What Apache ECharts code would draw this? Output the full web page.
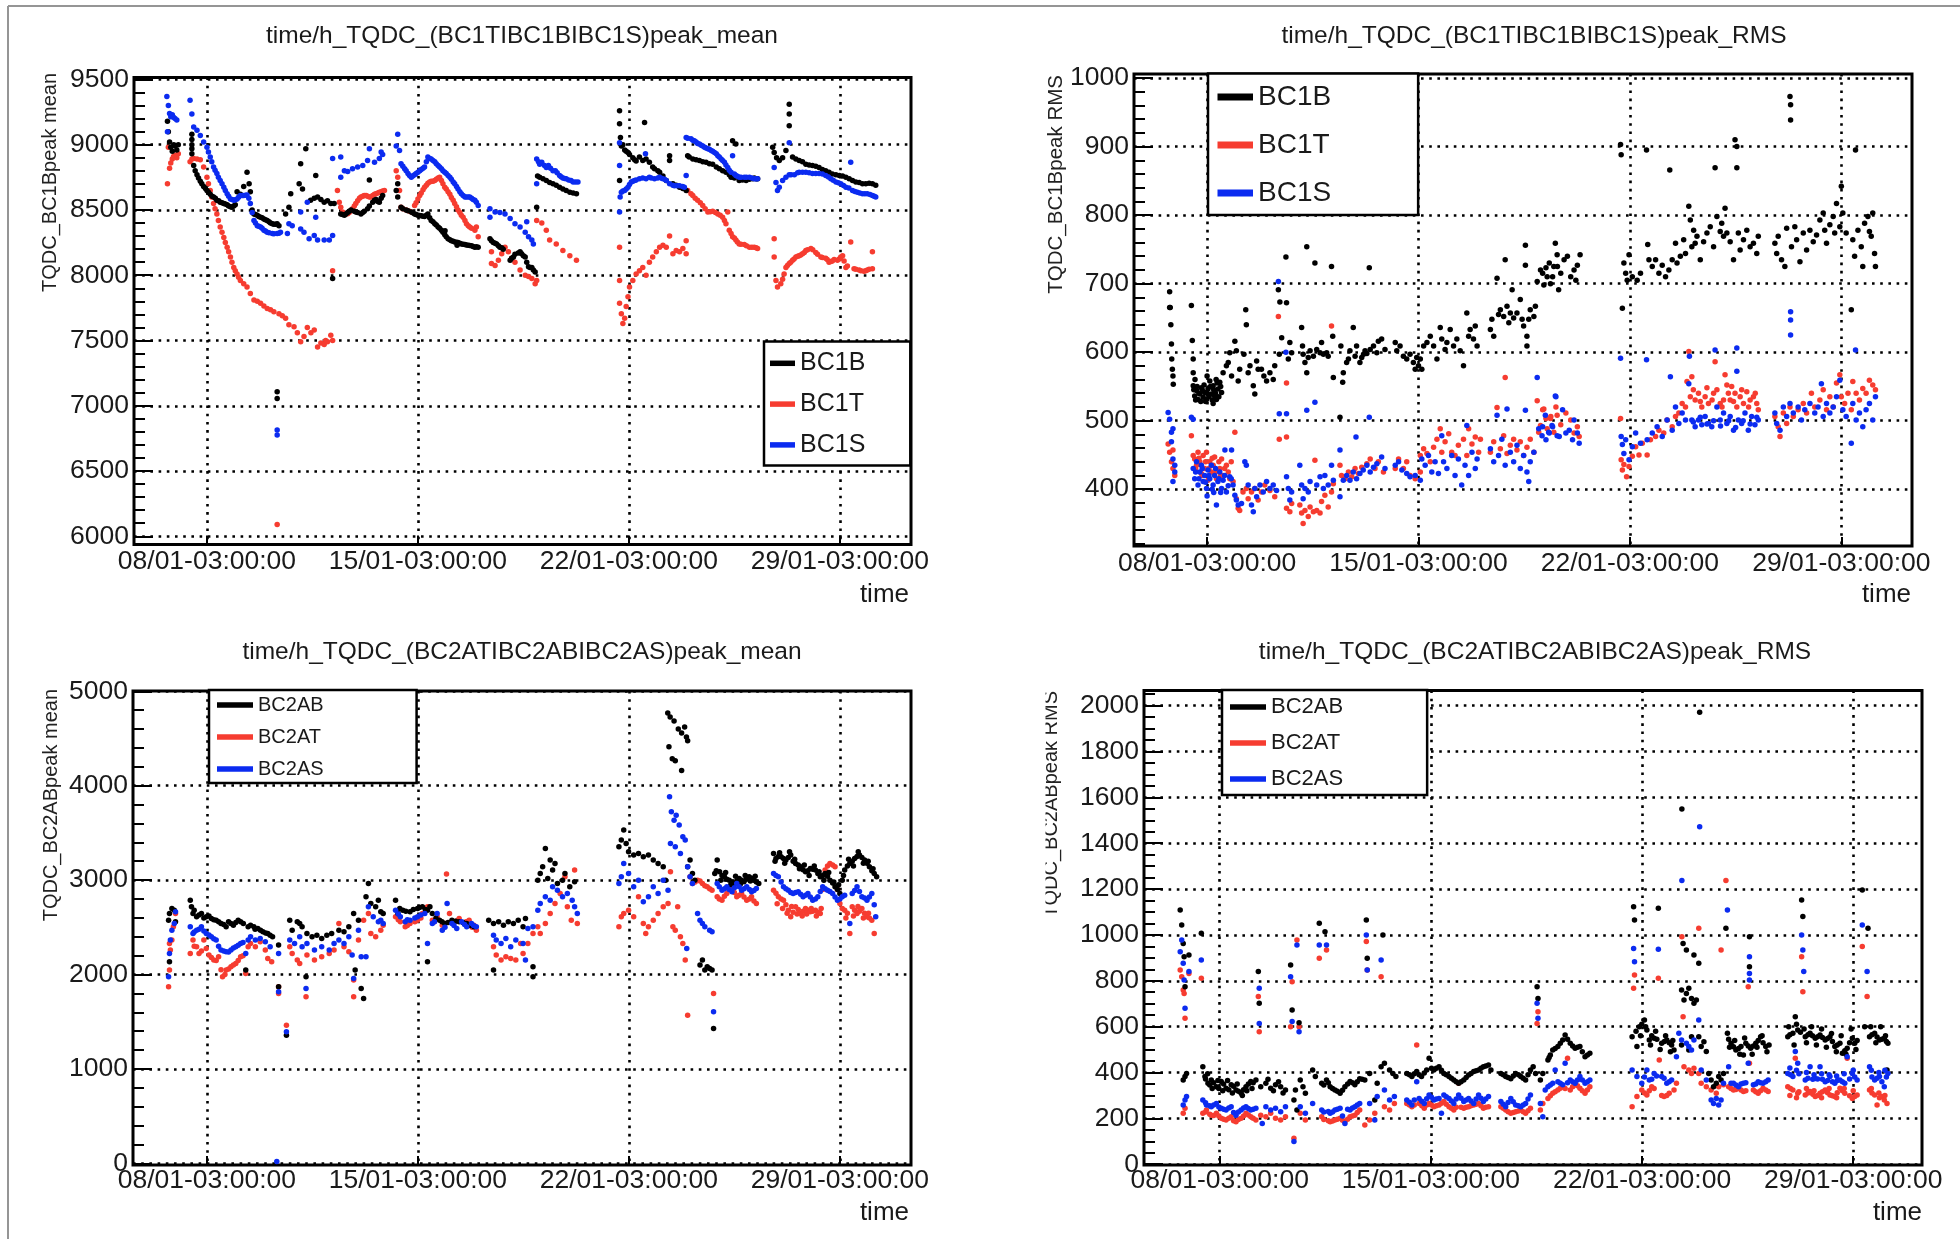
<!DOCTYPE html>
<html><head><meta charset="utf-8">
<script src="https://cdn.jsdelivr.net/npm/echarts@6.0.0/dist/echarts.min.js"></script>
<style>html,body{margin:0;padding:0;background:#fff}#c{width:1960px;height:1239px}</style>
</head><body><div id="c"></div>
<script>
// ---------- tick labels ----------
const weekTicks = [0, 7, 14, 21];   // days after 08/01-03:00:00
const weekLabels = ['08/01-03:00:00', '15/01-03:00:00', '22/01-03:00:00', '29/01-03:00:00'];
const p1YTicks = [6000, 6500, 7000, 7500, 8000, 8500, 9000, 9500];
const p2YTicks = [400, 500, 600, 700, 800, 900, 1000];
const p3YTicks = [0, 1000, 2000, 3000, 4000, 5000];
const p4YTicks = [0, 200, 400, 600, 800, 1000, 1200, 1400, 1600, 1800, 2000];

// ---------- data: [day offset from 08/01-03:00, value] ----------
// Panel 1: peak_mean BC1
const p1_BC1B = [[-1.31,9180],[-1.28,9100],[-1.24,9020],[-1.2,8980],[-1.15,8950],[-1.1,9000],[-1.05,8990],[-1.0,8960],[-0.95,9000],
[-0.5,9080],[-0.5,9040],[-0.5,9000],[-0.5,8970],[-0.5,8930],[-0.44,8840],[-0.39,8800],[-0.33,8770],[-0.28,8745],[-0.22,8720],[-0.17,8700],[-0.11,8680],[-0.05,8665],[0,8650],[0.05,8635],[0.11,8620],[0.17,8605],[0.22,8600],[0.28,8590],[0.33,8575],[0.39,8570],[0.44,8560],[0.5,8555],[0.56,8550],[0.61,8545],[0.67,8540],[0.72,8530],[0.78,8525],[0.83,8520],[0.89,8530],[0.94,8540],[1.0,8640],[1.11,8620],[1.22,8680],[1.33,8790],[1.4,8700],[1.44,8640],[1.5,8500],[1.56,8470],[1.61,8465],[1.67,8460],[1.72,8450],[1.78,8445],[1.83,8440],[1.89,8430],[1.94,8425],[2.0,8420],[2.06,8410],[2.11,8400],[2.17,8395],[2.22,8390],[2.28,8390],[2.33,8395],[2.39,8380],[2.61,8470],[2.72,8520],[2.78,8625],[3.06,8700],[3.17,8660],[3.11,8855],[3.28,8970],[3.44,8575],[3.56,8590],[3.61,8765],[3.67,8600],[3.78,8580],[3.89,8560],[4.0,8570],[4.11,8550],[4.22,8550],
[2.33,7107],[2.33,7055],[4.17,7975],
[4.44,8470],[4.5,8465],[4.56,8460],[4.61,8470],[4.67,8480],[4.72,8490],[4.78,8500],[4.89,8490],[4.94,8485],[5.0,8480],[5.11,8470],[5.17,8480],[5.22,8490],[5.33,8510],[5.39,8530],[5.39,8730],[5.5,8560],[5.56,8575],[5.61,8580],[5.67,8565],[5.72,8560],[5.78,8590],[5.83,8610],
[6.28,8650],[6.33,8600],[6.33,8700],[6.44,8520],[6.5,8510],[6.61,8500],[6.67,8495],[6.78,8485],[6.83,8478],[6.89,8470],[6.94,8465],[7.0,8460],[7.06,8458],[7.11,8455],[7.17,8452],[7.22,8450],[7.28,8460],[7.33,8470],[7.39,8440],[7.44,8420],[7.5,8410],[7.56,8395],[7.61,8385],[7.67,8370],[7.72,8360],[7.78,8345],[7.83,8330],[7.89,8310],[7.9,8340],[7.94,8295],[8.0,8280],[8.06,8272],[8.11,8265],[8.17,8260],[8.22,8255],[8.28,8252],[8.3,8230],[8.33,8250],[8.39,8245],[8.44,8240],[8.5,8238],[8.56,8235],[8.61,8232],[8.67,8230],[8.72,8228],[8.78,8225],[8.83,8220],[8.89,8215],[8.94,8218],[9.0,8215],
[9.39,8280],[9.44,8265],[9.5,8250],[9.56,8245],[9.61,8240],[9.67,8225],[9.72,8215],[9.78,8210],[9.83,8200],[10.06,8115],[10.11,8130],[10.17,8140],[10.22,8160],[10.33,8170],[10.39,8180],[10.44,8165],[10.5,8150],[10.56,8140],[10.61,8100],[10.67,8065],[10.72,8060],[10.78,8060],[10.83,8040],[10.89,8025],[10.94,8520],
[10.97,8760],[11.04,8750],[11.15,8740],[11.26,8725],[11.37,8710],[11.48,8700],[11.59,8690],[11.7,8675],[11.81,8660],[11.92,8650],[12.04,8635],[12.15,8630],[12.26,8625],
[13.69,9260],[13.69,9160],[13.69,8725],[13.72,9055],[13.75,8990],[13.8,9000],[13.86,8960],[13.91,8950],[13.97,8940],[14.02,8925],[14.13,8900],[14.19,8885],[14.24,8875],[14.35,8905],[14.46,8880],[14.52,9170],[14.57,8890],[14.68,8865],[14.79,8830],[14.85,8815],[14.96,8800],[15.02,8790],[15.13,8760],[15.24,8725],[15.35,8915],[15.35,8880],[15.46,8700],[15.57,8690],[15.68,8675],[15.79,8665],[15.9,8650],
[15.95,8915],[16.0,8905],[16.12,8890],[16.23,8885],[16.34,8880],[16.45,8870],[16.56,8865],[16.67,8855],[16.78,8850],[16.9,8830],[17.0,8815],[17.11,8800],[17.22,8790],[17.33,8770],[17.39,8750],[17.44,9030],[17.5,8745],[17.55,9005],[17.66,8725],[17.77,8730],[17.89,8725],[18.0,8735],[18.11,8740],[18.16,8745],[18.22,8740],[18.27,8740],
[18.77,8980],[18.82,8940],[18.9,8900],[18.99,8880],[19.1,8900],[19.21,8955],[19.32,9310],[19.32,9235],[19.32,9145],[19.43,8905],[19.54,8890],[19.65,8880],[19.76,8870],[19.87,8850],[19.98,8845],[20.09,8840],[20.2,8835],[20.31,8825],[20.42,8810],[20.53,8800],[20.64,8790],[20.75,8775],[20.87,8770],[20.98,8765],[21.09,8760],[21.2,8750],[21.31,8740],[21.42,8725],[21.53,8715],[21.64,8710],[21.75,8700],[21.86,8700],[21.97,8705],[22.08,8700],[22.19,8690]];
const p1_BC1T = [[-1.31,8700],[-1.28,8980],[-1.24,8820],[-1.2,8860],[-1.15,8890],[-1.11,8910],[-1.06,8920],[-1.0,8900],[-0.95,8930],
[-0.56,8870],[-0.5,8890],[-0.44,8895],[-0.33,8890],[-0.22,8885],[-0.11,8830],[0,8750],[0.05,8700],[0.11,8650],[0.16,8600],[0.22,8550],[0.27,8510],[0.33,8470],[0.38,8420],[0.44,8370],[0.5,8330],[0.56,8290],[0.61,8250],[0.67,8215],[0.72,8180],[0.78,8140],[0.83,8100],[0.89,8060],[0.94,8035],[1.0,8010],[1.05,7985],[1.11,7960],[1.22,7935],[1.33,7910],[1.44,7860],[1.56,7810],[1.67,7800],[1.78,7785],[1.89,7765],[2.0,7745],[2.11,7735],[2.22,7720],[2.39,7705],[2.5,7690],[2.61,7670],[2.72,7620],[2.89,7605],[3.0,7560],[3.11,7490],[3.22,7530],[3.33,7600],[3.45,7560],[3.56,7580],[3.67,7450],[3.78,7480],[3.89,7470],[3.94,7500],[4.0,7490],[4.11,7540],[4.17,7500],
[2.33,6090],[4.17,8035],
[4.33,8650],[4.39,8560],[4.44,8520],[4.5,8485],[4.56,8475],[4.61,8470],[4.67,8472],[4.72,8480],[4.78,8495],[4.83,8510],[4.89,8530],[4.94,8550],[5.0,8570],[5.06,8590],[5.11,8600],[5.17,8605],[5.22,8610],[5.28,8610],[5.33,8605],[5.39,8600],[5.44,8600],[5.5,8610],[5.56,8620],[5.61,8625],[5.67,8630],[5.72,8635],[5.78,8640],[5.83,8645],[5.89,8650],
[6.28,8800],[6.33,8750],[6.39,8650],[6.44,8520],[6.5,8510],[6.61,8500],[6.72,8490],[6.78,8485],[6.89,8535],[6.94,8555],[7.0,8585],[7.06,8610],[7.11,8630],[7.17,8655],[7.22,8675],[7.28,8690],[7.33,8705],[7.39,8715],[7.44,8720],[7.5,8720],[7.56,8725],[7.61,8735],[7.67,8745],[7.72,8750],[7.78,8725],[7.83,8700],[7.89,8675],[7.94,8660],[8.0,8640],[8.06,8620],[8.11,8595],[8.17,8575],[8.22,8550],[8.28,8525],[8.33,8500],[8.39,8480],[8.44,8460],[8.5,8445],[8.56,8420],[8.61,8395],[8.67,8380],[8.72,8370],[8.78,8360],[8.89,8345],[8.94,8370],[9.0,8295],
[9.44,8180],[9.44,8090],[9.56,8075],[9.67,8115],[9.78,8165],[9.89,8215],[10.0,8180],[10.11,8130],[10.22,8100],[10.39,8040],[10.56,8000],[10.67,7990],[10.78,7975],[10.89,7935],[10.94,7960],
[10.94,8420],[11.11,8400],[11.26,8345],[11.37,8270],[11.59,8240],[11.81,8190],[12.04,8150],[12.26,8115],
[13.69,8215],[13.69,7960],[13.69,7785],[13.75,7705],[13.8,7630],[13.86,7670],[13.91,7760],[13.97,7835],[14.02,7910],[14.13,7960],[14.24,8010],[14.35,8035],[14.46,8060],[14.57,8000],[14.68,8100],[14.79,8140],[14.91,8180],[15.02,8215],[15.13,8230],[15.24,8215],[15.35,8300],[15.46,8165],[15.57,8190],[15.68,8180],[15.79,8205],[15.9,8265],[15.9,8165],
[15.95,8650],[16.06,8625],[16.12,8610],[16.2,8590],[16.28,8575],[16.37,8555],[16.45,8535],[16.53,8510],[16.62,8485],[16.7,8487],[16.78,8490],[16.87,8480],[16.95,8470],[17.03,8460],[17.11,8445],[17.17,8420],[17.22,8395],[17.28,8485],[17.33,8345],[17.39,8320],[17.44,8295],[17.5,8285],[17.55,8270],[17.6,8255],[17.66,8240],[17.72,8238],[17.83,8235],[17.9,8225],[18.0,8215],[18.08,8215],[18.16,8215],[18.22,8210],[18.27,8205],
[18.82,8280],[18.82,8140],[18.88,7960],[18.93,7910],[19.04,7935],[19.1,7970],[19.15,8010],[19.21,8060],[19.26,8075],[19.32,8090],[19.37,8100],[19.43,8115],[19.48,8125],[19.54,8140],[19.6,8145],[19.65,8150],[19.7,8155],[19.76,8165],[19.82,8175],[19.87,8190],[19.93,8195],[20.04,8205],[20.1,8195],[20.2,8175],[20.26,8160],[20.37,8140],[20.42,8135],[20.53,8130],[20.58,8120],[20.64,8100],[20.7,8105],[20.75,8110],[20.81,8120],[20.92,8115],[20.98,8125],[21.03,8140],[21.09,8150],[21.14,8110],[21.2,8060],[21.25,8070],[21.36,8255],[21.47,8050],[21.53,8045],[21.64,8040],[21.7,8035],[21.8,8030],[21.86,8035],[21.91,8040],[21.97,8045],[22.08,8050],[22.08,8180]];
const p1_BC1S = [[-1.31,9100],[-1.33,9370],[-1.28,9300],[-1.24,9240],[-1.2,9215],[-1.15,9230],[-1.11,9210],[-1.06,9200],[-1.0,9190],
[-0.56,9340],[-0.5,9235],[-0.44,9135],[-0.33,9110],[-0.22,9070],[-0.11,9020],[0,8980],[0.05,8945],[0.11,8905],[0.16,8870],[0.22,8830],[0.27,8805],[0.33,8780],[0.38,8750],[0.44,8725],[0.5,8700],[0.56,8675],[0.61,8650],[0.67,8625],[0.72,8605],[0.78,8585],[0.83,8580],[0.89,8575],[0.94,8578],[1.0,8585],[1.05,8598],[1.11,8610],[1.17,8610],[1.22,8610],[1.28,8612],[1.33,8615],[1.39,8590],[1.44,8550],[1.5,8480],[1.56,8420],[1.61,8400],[1.67,8380],[1.72,8375],[1.78,8370],[1.83,8360],[1.89,8345],[1.94,8338],[2.0,8330],[2.06,8325],[2.17,8320],[2.22,8318],[2.33,8320],[2.39,8322],[2.44,8330],[2.67,8320],[2.72,8395],[2.83,8380],[3.11,8355],[3.22,8330],[3.33,8560],[3.39,8280],[3.56,8305],[3.67,8270],[3.89,8270],[4.06,8270],[4.17,8305],[3.11,8485],[3.61,8445],
[2.33,6815],[2.33,6775],
[4.17,8895],[4.44,8905],[4.44,8750],[4.56,8800],[4.67,8795],[4.83,8815],[5.0,8830],[5.17,8840],[5.33,8880],[5.39,8970],[5.56,8865],[5.72,8895],[5.78,8945],[5.83,8925],
[6.28,8990],[6.33,9080],[6.39,8955],[6.44,8855],[6.5,8835],[6.56,8815],[6.61,8800],[6.67,8780],[6.72,8765],[6.78,8750],[6.83,8760],[6.89,8770],[6.94,8780],[7.0,8790],[7.06,8800],[7.11,8810],[7.17,8820],[7.22,8830],[7.28,8870],[7.33,8905],[7.39,8895],[7.44,8890],[7.5,8880],[7.56,8870],[7.61,8855],[7.67,8840],[7.72,8830],[7.78,8815],[7.83,8800],[7.89,8790],[7.94,8780],[8.0,8765],[8.06,8750],[8.11,8735],[8.17,8715],[8.22,8700],[8.28,8680],[8.33,8660],[8.39,8640],[8.44,8625],[8.5,8610],[8.56,8600],[8.61,8600],[8.67,8600],[8.72,8600],[8.78,8590],[8.83,8580],[8.89,8575],[8.94,8560],[9.0,8535],
[9.39,8510],[9.39,8445],[9.56,8485],[9.72,8480],[9.89,8470],[10.06,8435],[10.22,8395],[10.39,8370],[10.56,8330],[10.61,8410],[10.67,8295],[10.78,8270],[10.83,8240],
[10.94,8700],[10.94,8890],[11.0,8870],[11.04,8850],[11.11,8865],[11.2,8840],[11.26,8825],[11.33,8840],[11.4,8820],[11.48,8800],[11.56,8800],[11.62,8785],[11.7,8765],[11.75,8755],[11.81,8745],[11.87,8742],[11.92,8740],[12.0,8730],[12.08,8725],[12.15,8715],[12.23,8715],[12.31,8715],
[13.69,9015],[13.69,8840],[13.69,8485],[13.71,8600],[13.75,8635],[13.8,8645],[13.86,8650],[13.91,8660],[13.97,8675],[14.02,8695],[14.08,8715],[14.13,8720],[14.19,8725],[14.24,8730],[14.35,8740],[14.46,8745],[14.55,8930],[14.57,8740],[14.68,8750],[14.74,8745],[14.85,8740],[14.96,8745],[15.02,8750],[15.1,8742],[15.18,8735],[15.24,8725],[15.35,8700],[15.46,8690],[15.51,8685],[15.6,8685],[15.68,8685],[15.78,8680],[15.84,8675],[15.9,8765],
[15.9,9055],[15.95,9050],[16.06,9045],[16.12,9035],[16.17,9030],[16.23,9020],[16.28,9010],[16.34,9005],[16.4,8995],[16.45,8990],[16.51,8980],[16.56,8975],[16.62,8970],[16.67,8965],[16.73,8955],[16.78,8950],[16.84,8940],[16.9,8930],[16.95,8915],[17.0,8905],[17.06,8890],[17.11,8880],[17.17,8865],[17.22,8845],[17.28,8825],[17.33,8805],[17.39,8790],[17.44,8915],[17.5,8775],[17.55,8765],[17.6,8758],[17.66,8750],[17.72,8750],[17.83,8750],[17.9,8750],[18.0,8750],[18.08,8745],[18.16,8740],[18.22,8740],[18.27,8740],
[18.82,8825],[18.88,8710],[18.93,8650],[18.99,8675],[19.1,8725],[19.21,8750],[19.32,9015],[19.32,8770],[19.38,8770],[19.49,8770],[19.6,8785],[19.65,8790],[19.76,8790],[19.87,8790],[19.98,8785],[20.09,8780],[20.2,8780],[20.31,8780],[20.42,8775],[20.53,8765],[20.62,8752],[20.7,8740],[20.78,8728],[20.87,8715],[20.95,8708],[21.03,8700],[21.12,8688],[21.2,8675],[21.3,8668],[21.36,8865],[21.42,8650],[21.5,8642],[21.58,8635],[21.66,8630],[21.75,8625],[21.83,8625],[21.91,8625],[22.0,8618],[22.08,8610],[22.14,8605],[22.19,8600]];

// Panel 2: peak_RMS BC1
const p2_BC1B = [[-1.24,688],[-1.22,665],[-1.2,640],[-1.18,612],[-1.17,590],[-1.15,575],[-1.13,565],[-1.12,553],[-1.24,665],
[-0.52,668],[-0.49,617],[-0.46,590],[-0.46,570],
[-0.46,551],[-0.44,545],[-0.41,536],[-0.4,560],[-0.38,530],[-0.35,544],[-0.33,550],[-0.3,531],[-0.27,540],[-0.24,539],[-0.21,528],[-0.19,548],[-0.16,545],[-0.13,534],[-0.1,552],[-0.08,541],[-0.05,528],[-0.02,531],[0.0,540],[0.0,565],[0.03,546],[0.06,535],[0.09,558],[0.11,550],[0.14,539],[0.17,530],[0.2,551],[0.2,525],[0.22,545],[0.25,536],[0.28,540],[0.3,560],[0.31,531],[0.33,555],[0.36,546],[0.39,535],[0.42,556],[0.45,550],[0.48,541],
[0.53,570],[0.64,580],[0.7,585],[0.75,599],[0.81,565],[0.92,616],[0.97,602],[1.03,558],[1.08,575],
[1.22,597],[1.28,662],[1.3,640],[1.36,570],[1.42,580],
[1.53,551],[1.58,539],[1.64,587],[1.69,575],[1.8,575],[1.88,565],[1.97,558],[2.08,570],[2.19,560],[2.24,580],
[2.36,691],[2.39,597],[2.41,673],[2.47,621],[2.61,739],[2.63,672],[2.69,590],[2.74,614],[2.8,599],
[3.13,636],[3.16,609],[3.18,597],[3.24,585],[3.3,754],[3.3,570],[3.35,592],[3.41,602],[3.52,594],[3.57,730],[3.63,604],[3.74,599],[3.79,614],[3.85,597],[3.96,599],[4.01,594],
[4.12,725],[4.16,623],[4.18,563],[4.4,505],[4.43,609],[4.49,556],[4.51,570],[4.62,585],[4.68,590],[4.73,602],[4.84,636],[4.9,594],[4.95,609],[5.06,585],[5.12,592],[5.18,597],[5.23,602],[5.29,598],[5.37,723],[5.4,604],[5.51,609],[5.62,599],[5.67,616],[5.78,619],[5.89,604],
[6.23,614],[6.28,602],[6.39,609],[6.5,594],[6.61,590],[6.72,597],[6.83,585],[6.89,575],[6.94,592],[7.0,580],[7.06,590],[7.11,575],
[7.17,609],[7.28,614],[7.39,623],[7.5,609],[7.61,590],[7.72,636],[7.77,619],[7.88,604],[7.94,614],[8.05,633],[8.16,609],[8.27,619],[8.38,602],[8.49,580],[8.6,657],[8.66,623],[8.71,633],[8.82,619],[8.88,638],[8.94,609],
[9.38,633],[9.43,648],[9.49,623],[9.6,708],[9.65,655],[9.71,662],[9.82,652],[9.87,735],[9.93,667],[9.99,643],[10.04,657],[10.1,691],[10.15,650],[10.26,657],[10.37,677],[10.43,648],[10.48,638],[10.54,756],[10.54,727],[10.59,623],[10.59,609],[10.65,648],[10.7,662],[10.82,652],[10.87,667],
[10.93,703],[11.04,720],[11.15,698],[11.26,710],[11.37,700],[11.48,725],[11.53,759],[11.59,742],[11.64,691],
[11.11,715],[11.22,723],[11.33,730],[11.44,710],[11.6,725],[11.71,715],[11.82,735],[11.93,740],[12.04,710],[12.15,720],[12.21,705],[12.26,727],[12.35,742],
[13.69,903],[13.71,888],[13.75,664],[13.8,730],[13.86,715],[13.91,705],[13.97,742],[14.08,710],[14.24,705],[14.35,715],[14.55,895],[14.59,757],[14.63,735],[14.74,725],[14.85,735],[14.96,715],[15.07,727],[15.18,710],[15.29,720],[15.32,866],[15.4,735],[15.51,759],[15.56,730],[15.67,740],[15.78,764],[15.84,744],
[15.95,813],[16.0,793],[16.05,754],[16.11,778],[16.16,759],[16.22,769],[16.33,735],[16.44,761],[16.55,774],[16.66,783],[16.77,754],[16.82,869],[16.88,798],[16.99,776],[17.04,788],[17.1,769],[17.15,810],[17.21,774],[17.32,761],[17.43,735],[17.48,910],[17.54,900],[17.54,869],[17.59,774],[17.65,749],[17.76,764],[17.87,778],[17.98,754],[18.09,759],[18.2,744],[18.25,769],
[18.8,759],[18.86,744],[18.91,769],[19.02,735],[19.13,725],[19.19,781],[19.3,973],[19.32,961],[19.32,939],[19.35,754],[19.46,783],[19.52,764],[19.63,732],[19.74,774],[19.85,749],[19.96,778],[20.07,761],[20.18,771],[20.29,793],[20.4,803],[20.45,778],[20.51,759],[20.62,786],[20.73,798],[20.78,774],[20.84,817],[20.95,783],[21.0,842],[21.05,803],[21.16,774],[21.33,662],[21.38,764],[21.44,740],[21.47,895],[21.55,778],[21.66,754],[21.71,725],[21.77,788],[21.88,798],[21.93,776],[21.99,769],[22.04,803],[22.1,744],[22.13,725]];
const p2_BC1T = [[-1.29,466],[-1.24,454],[-1.18,440],[-1.13,457],[-1.07,420],[-1.13,430],
[-0.52,478],[-0.46,449],
[-0.41,444],[-0.38,430],[-0.35,435],[-0.3,454],[-0.27,445],[-0.24,440],[-0.19,423],[-0.16,420],[-0.13,449],[-0.08,430],[-0.05,440],[-0.02,454],[0.03,413],[0.06,430],[0.09,440],[0.14,425],[0.17,445],[0.2,435],[0.25,447],[0.28,425],[0.31,415],[0.39,440],[0.42,430],[0.45,420],[0.48,444],[0.53,420],[0.58,430],[0.64,435],[0.7,425],[0.75,415],[0.8,440],[0.86,411],[0.92,483],
[0.97,386],[1.03,372],[1.08,369],[1.19,396],[1.3,401],[1.36,386],[1.47,396],[1.58,401],[1.69,384],[1.8,396],[1.91,406],[2.08,398],[2.24,389],
[2.36,652],[2.39,473],[2.63,476],[2.63,555],
[2.63,372],[2.74,367],[2.8,379],[3.07,377],[3.13,365],[3.18,350],[3.24,369],[3.35,360],[3.41,374],[3.52,367],[3.57,442],[3.63,369],[3.74,365],[3.79,382],[3.9,391],[4.01,374],[4.12,638],[4.12,396],
[4.18,408],[4.4,435],[4.45,420],[4.57,415],[4.68,425],[4.79,418],[4.9,430],[5.01,423],[5.12,432],[5.29,437],[5.4,444],[5.56,430],[5.67,440],[5.84,425],
[6.23,430],[6.34,444],[6.5,430],[6.61,440],[6.72,420],[6.89,415],[7.06,425],
[7.06,449],[7.17,459],[7.28,452],[7.39,440],[7.5,461],[7.61,473],[7.72,488],[7.77,454],[7.88,469],[8.0,481],[8.1,454],[8.21,449],[8.32,464],[8.49,473],[8.6,449],[8.66,488],[8.77,466],[8.88,476],[8.99,454],[9.05,473],
[9.38,454],[9.49,469],[9.6,519],[9.71,459],[9.82,478],[9.87,563],[9.93,452],[10.04,464],[10.15,473],[10.26,457],[10.37,469],[10.48,449],[10.59,461],[10.7,473],[10.82,454],[10.93,529],
[10.98,483],[11.04,493],[11.15,517],[11.26,488],[11.37,503],[11.48,483],[11.59,508],
[11.11,516],[11.22,503],[11.38,506],[11.55,520],[11.71,494],[11.88,511],[12.04,501],[12.15,482],[12.26,491],[12.32,477],
[13.69,503],[13.71,443],[13.75,428],[13.8,436],[13.89,418],[13.97,433],[14.08,448],[14.19,462],[14.3,450],[14.41,467],[14.57,450],[14.68,472],[14.85,477],[14.96,486],[15.12,482],[15.23,501],[15.4,491],[15.51,506],[15.62,511],[15.73,525],[15.84,520],[15.89,557],
[15.95,601],[16.0,535],[16.05,564],[16.1,545],[16.16,530],[16.27,540],[16.33,528],[16.38,520],[16.49,535],[16.55,548],[16.6,525],[16.72,530],[16.77,540],[16.82,586],[16.88,545],[16.99,525],[17.05,520],[17.1,530],[17.15,567],[17.21,552],[17.26,540],[17.32,530],[17.37,550],[17.43,528],[17.48,540],[17.54,520],[17.65,535],[17.7,545],[17.76,525],[17.87,542],[17.93,520],[17.98,530],[18.09,535],[18.15,540],[18.2,525],[18.25,516],
[18.8,506],[18.91,491],[18.97,477],[19.08,511],[19.19,496],[19.3,520],[19.41,506],[19.57,516],[19.74,525],[19.85,511],[20.01,540],[20.12,520],[20.29,530],[20.4,545],[20.51,516],[20.62,535],[20.73,520],[20.84,555],[20.95,567],[21.0,535],[21.11,525],[21.22,540],[21.33,516],[21.38,557],[21.49,540],[21.6,530],[21.71,547],[21.82,540],[21.93,559],[22.04,552],[22.13,545]];
const p2_BC1S = [[-1.29,512],[-1.24,502],[-1.18,483],[-1.13,488],[-1.18,469],[-1.13,444],[-1.07,425],[-1.13,411],[-1.07,435],
[-0.52,505],[-0.46,502],
[-0.46,430],[-0.41,415],[-0.38,425],[-0.35,440],[-0.3,406],[-0.27,415],[-0.24,425],[-0.19,435],[-0.16,430],[-0.13,411],[-0.08,420],[-0.05,410],[-0.02,401],[0.0,390],[0.03,428],[0.06,420],[0.09,415],[0.14,435],[0.17,400],[0.2,406],[0.22,395],[0.25,420],[0.28,430],[0.31,377],[0.36,411],[0.39,415],[0.42,425],[0.45,395],[0.48,401],[0.53,413],[0.58,420],[0.59,457],[0.64,396],[0.7,405],[0.75,418],[0.8,415],[0.81,457],[0.86,406],
[0.92,391],[0.97,384],[1.03,377],[1.14,379],[1.25,440],[1.3,435],[1.36,406],[1.47,377],[1.53,367],[1.58,401],[1.64,389],[1.75,406],[1.86,396],[1.97,411],[2.08,401],[2.19,406],[2.3,398],
[2.36,703],[2.39,510],[2.63,510],[2.61,600],
[2.63,418],[2.69,401],[2.74,384],[2.8,396],[3.07,435],[3.13,406],[3.18,386],[3.24,401],[3.3,515],[3.35,396],[3.41,411],[3.57,527],[3.63,406],[3.74,418],[3.85,401],[3.9,420],[4.01,406],[4.12,435],[4.18,413],
[4.4,457],[4.4,389],[4.51,413],[4.62,420],[4.73,413],[4.84,425],[4.93,476],[4.95,415],[5.06,423],[5.17,428],[5.29,435],[5.37,505],[5.4,425],[5.51,432],[5.62,437],[5.78,447],[5.89,430],
[6.23,435],[6.34,440],[6.45,428],[6.61,423],[6.72,418],[6.89,420],[7.06,413],
[7.11,444],[7.22,435],[7.33,449],[7.44,425],[7.55,440],[7.66,423],[7.77,478],[7.83,440],[7.94,430],[8.1,449],[8.21,420],[8.32,444],[8.43,406],[8.54,435],[8.6,493],[8.66,420],[8.77,454],[8.88,430],[8.94,444],
[9.38,459],[9.49,440],[9.6,508],[9.65,449],[9.76,473],[9.87,435],[9.93,517],[10.04,454],[10.15,440],[10.26,464],[10.37,430],[10.48,449],[10.54,515],[10.59,425],[10.65,411],[10.7,440],[10.82,454],[10.93,563],
[10.98,488],[11.09,478],[11.2,508],[11.31,483],[11.42,493],[11.53,536],[11.59,478],
[11.11,491],[11.22,472],[11.33,482],[11.44,491],[11.55,535],[11.66,477],[11.77,516],[11.88,482],[11.99,486],[12.1,472],[12.15,501],[12.26,482],[12.32,467],
[13.69,591],[13.71,477],[13.75,465],[13.8,452],[13.86,472],[13.97,443],[14.08,462],[14.19,482],[14.35,467],[14.55,589],[14.57,472],[14.74,482],[14.9,491],[15.07,477],[15.23,501],[15.34,564],[15.4,486],[15.51,520],[15.62,496],[15.73,511],[15.84,501],
[15.95,554],[15.97,594],[16.05,501],[16.1,498],[16.16,491],[16.27,501],[16.33,505],[16.38,494],[16.49,506],[16.55,495],[16.6,496],[16.71,491],[16.77,500],[16.82,603],[16.88,520],[16.99,501],[17.0,492],[17.1,511],[17.21,496],[17.27,500],[17.32,506],[17.43,486],[17.5,490],[17.54,606],[17.54,572],[17.59,501],[17.7,496],[17.75,500],[17.81,511],[17.92,486],[17.98,495],[18.03,506],[18.14,494],[18.2,505],[18.25,501],
[18.8,511],[18.86,496],[18.97,486],[19.08,520],[19.19,506],[19.3,525],[19.32,659],[19.32,647],[19.32,625],[19.41,511],[19.57,520],[19.68,501],[19.79,516],[19.96,525],[20.12,511],[20.23,520],[20.34,554],[20.4,506],[20.51,525],[20.62,511],[20.73,520],[20.84,535],[20.95,559],[21.05,516],[21.16,506],[21.33,467],[21.38,525],[21.47,603],[21.49,501],[21.6,511],[21.71,491],[21.82,516],[21.93,525],[22.04,501],[22.13,535]];

// Panel 3: peak_mean BC2A
const p3_BC2AB = [[-1.27,2576],[-1.24,2647],[-1.16,2700],[-1.08,2682],[-1.04,2559],[-1.24,2135],
[-0.55,2788],[-0.51,2717],[-0.46,2647],[-0.42,2680],[-0.34,2612],[-0.26,2630],[-0.18,2647],[-0.1,2600],[-0.02,2612],[0.07,2620],[0.15,2594],[0.23,2580],[0.31,2576],[0.39,2560],[0.47,2541],[0.56,2530],[0.64,2506],[0.72,2559],[0.8,2540],[0.88,2523],[0.96,2550],[1.04,2576],[1.12,2560],[1.21,2541],[1.29,2047],[1.37,2506],
[1.45,2523],[1.56,2506],[1.6,2480],[1.69,2488],[1.78,2470],[1.86,2453],[1.95,2440],[2.02,2435],[2.1,2417],[2.18,2400],
[2.38,2312],[2.38,1870],[2.64,1358],[2.75,2576],[2.83,2470],[3.0,2559],[3.08,2541],[3.16,2506],[3.29,1976],[3.32,2435],[3.49,2400],[3.65,2417],[3.81,2382],[3.98,2417],[4.14,2435],
[4.38,2470],[4.55,2453],[4.71,2506],[4.87,2647],[4.92,2047],[5.03,2576],[5.12,1853],[5.2,1747],[5.28,2823],[5.36,2965],[5.44,2753],[5.6,2717],[5.69,2788],[5.77,2665],[5.85,2647],
[6.26,2788],[6.34,2647],[6.4,2700],[6.5,2682],[6.6,2670],[6.74,2665],[6.85,2690],[6.99,2700],[7.05,2710],[7.15,2717],[7.25,2690],[7.32,2682],[7.4,2717],[7.32,2135],[7.48,2647],
[7.6,2600],[7.72,2576],[7.8,2560],[7.89,2541],[8.0,2550],[8.13,2576],[8.25,2565],[8.37,2559],[8.5,2550],[8.62,2541],[8.75,2520],[8.86,2506],
[9.35,2576],[9.51,2541],[9.51,2047],[9.68,2559],[9.84,2523],[10.0,2559],[10.17,2541],[10.33,2576],[10.49,2506],[10.57,2594],[10.82,2082],[10.82,1976],
[10.98,3000],[11.06,3071],[11.14,3141],[11.23,3335],[11.31,3018],[11.39,3212],[11.47,3106],[11.55,3177],[11.63,2965],[11.8,3000],[11.88,3071],[12.04,2929],[12.2,2982],
[13.67,3353],[13.75,3424],[13.83,3530],[13.91,3388],[13.99,3300],[14.16,3265],[14.32,3282],[14.48,3247],[14.65,3265],[14.81,3212],[14.97,3177],[15.14,3141],[15.22,3000],
[15.29,4769],[15.37,4727],[15.5,4685],[15.64,4601],[15.75,4559],[15.85,4622],[15.91,4517],[15.33,4412],[15.44,4286],[15.54,4265],[15.75,4160],[15.95,4475],
[15.95,3141],[16.03,3212],[16.11,3071],[16.19,3000],[16.36,2100],[16.44,2153],[16.52,2047],[16.6,2082],[16.68,2065],[16.76,2047],[16.81,1429],
[16.85,3071],[16.9,3100],[16.93,3212],[17.01,3088],[17.05,3000],[17.09,3050],[17.17,3035],[17.21,3080],[17.25,3010],[17.33,3000],[17.38,2950],[17.42,2980],[17.5,2965],[17.54,3040],[17.58,2990],[17.66,3018],[17.7,2960],[17.74,3000],[17.82,2982],[17.86,3050],[17.9,3010],[17.99,3035],[18.03,2990],[18.07,3020],[18.15,3000],[18.19,3040],[18.23,2980],[18.31,2965],
[18.8,3282],[18.85,3200],[18.88,3229],[18.96,3250],[19.0,3290],[19.05,3247],[19.13,3230],[19.17,3180],[19.21,3212],[19.29,3240],[19.33,3300],[19.37,3265],[19.45,3200],[19.5,3220],[19.53,3177],[19.62,3160],[19.66,3120],[19.7,3141],[19.78,3110],[19.82,3160],[19.86,3088],[19.94,3100],[19.98,3050],[20.02,3124],[20.1,3115],[20.15,3150],[20.19,3106],[20.27,3070],[20.31,3090],[20.35,3035],[20.43,3050],[20.47,3000],[20.51,3071],[20.59,3040],[20.63,3080],[20.67,3000],[20.76,2970],[20.8,2980],[20.84,2929],[20.92,2900],[20.96,2950],[21.0,2859],[21.08,3000],[21.12,3050],[21.16,3106],[21.25,3150],[21.29,3220],[21.33,3177],[21.41,3200],[21.45,3150],[21.49,3229],[21.57,3250],[21.61,3300],[21.65,3265],[21.73,3240],[21.78,3180],[21.82,3212],[21.9,3180],[21.94,3200],[21.98,3141],[22.06,3100],[22.1,3120],[22.14,3071],[22.22,3035]];
const p3_BC2AT = [[-1.27,1870],[-1.24,2047],[-1.21,2259],[-1.16,2365],[-1.11,2506],[-1.04,2647],[-1.24,2329],
[-0.55,2223],[-0.46,2365],[-0.42,2300],[-0.34,2294],[-0.26,2223],[-0.18,2250],[-0.1,2365],[-0.02,2277],[0.07,2206],[0.15,2180],[0.23,2153],[0.31,2150],[0.39,2188],[0.47,2050],[0.52,1976],[0.6,2000],[0.64,2047],[0.72,2060],[0.8,2082],[0.88,2100],[0.96,2118],[1.04,2150],[1.12,2188],[1.2,2200],[1.29,2012],[1.37,2294],
[1.45,2329],[1.61,2294],[1.77,2347],[1.94,2259],[2.02,2171],[2.15,2135],
[2.38,1870],[2.38,1800],[2.64,1464],[2.75,2294],[2.83,2223],[3.0,2153],[3.08,2118],[3.29,1765],[3.32,2206],[3.57,2153],[3.81,2188],[4.06,2223],[4.22,2259],[4.38,2541],[4.55,2294],[4.71,2241],
[4.87,1765],[4.87,1941],[5.03,2365],[5.2,2576],[5.36,2647],[5.44,2435],[5.6,2400],[5.77,2470],[5.85,2523],
[6.26,2612],[6.35,2580],[6.42,2559],[6.58,2506],[6.65,2520],[6.74,2541],[6.9,2560],[6.99,2576],[7.1,2600],[7.15,2647],[7.32,2717],[7.48,2576],[7.55,2560],[7.64,2612],[7.81,2523],[7.9,2540],[7.95,3064],[8.05,2647],[8.21,2559],[8.3,2570],[8.37,2594],[8.54,2541],[8.6,2560],[8.7,2576],[8.8,2500],[8.86,2523],[8.94,2470],
[9.51,2294],[9.6,2206],[9.76,2153],[9.92,2188],[10.08,2171],[10.25,2153],[10.41,2329],[10.49,2223],[10.65,2329],[10.82,2435],
[10.98,2506],[11.06,2435],[11.23,2541],[11.39,2647],[11.55,2753],[11.72,2859],[11.88,3035],[11.96,2717],[12.09,2576],[12.2,3106],[12.29,2541],
[13.67,2506],[13.75,2612],[13.83,2647],[13.99,2682],[14.16,2612],[14.32,2823],[14.48,2541],[14.56,2435],[14.65,2506],[14.81,2576],[14.97,2647],[15.14,2717],[15.3,2753],[15.38,3088],[15.46,2506],[15.54,2470],[15.62,2717],[15.71,2400],[15.79,2329],[15.87,2153],[15.95,1570],
[16.03,3035],[16.11,2965],[16.2,2980],[16.28,3000],[16.36,2990],[16.44,2965],[16.52,2940],[16.6,2929],[16.68,2910],[16.76,2894],[16.81,1800],[16.93,2823],[17.0,2800],[17.09,2788],[17.17,2830],[17.25,2859],[17.33,2900],[17.42,2929],[17.5,2870],[17.58,2823],[17.66,2840],[17.74,2859],[17.82,2820],[17.91,2788],[18.0,2800],[18.07,2823],[18.15,2780],[18.23,2753],
[18.8,2894],[18.88,2860],[18.92,2750],[18.96,2823],[19.05,2800],[19.1,2700],[19.13,2788],[19.21,2740],[19.25,2650],[19.29,2682],[19.37,2612],[19.4,2720],[19.45,2660],[19.53,2717],[19.58,2640],[19.62,2690],[19.7,2647],[19.75,2620],[19.78,2670],[19.86,2700],[19.9,2640],[19.94,2680],[20.02,2665],[20.05,2700],[20.1,2670],[20.19,2682],[20.22,2620],[20.27,2660],[20.35,2647],[20.38,2700],[20.43,2900],[20.51,3106],[20.59,3150],[20.67,3177],[20.76,3160],[20.84,3141],[20.92,2900],[21.0,2753],[21.08,2700],[21.16,2682],[21.2,2600],[21.25,2650],[21.33,2435],[21.41,2717],[21.45,2620],[21.49,2680],[21.57,2647],[21.6,2720],[21.65,2670],[21.73,2700],[21.78,2600],[21.82,2650],[21.9,2612],[21.95,2650],[21.98,2600],[22.06,2576],[22.14,2435]];
const p3_BC2AS = [[-1.27,1976],[-1.24,2223],[-1.21,2365],[-1.16,2470],[-1.08,2541],[-1.04,2665],
[-0.55,2506],[-0.46,2435],[-0.42,2450],[-0.34,2470],[-0.26,2480],[-0.18,2506],[-0.1,2460],[-0.02,2435],[0.07,2420],[0.15,2400],[0.23,2380],[0.31,2365],[0.39,2300],[0.47,2259],[0.56,2250],[0.64,2241],[0.72,2240],[0.8,2259],[0.88,2280],[0.96,2294],[1.04,2310],[1.12,2329],[1.2,2340],[1.29,2223],[1.37,2365],
[1.45,2400],[1.61,2365],[1.77,2382],[1.94,2347],[2.1,2294],
[2.32,21],[2.38,2223],[2.38,1817],[2.64,1394],[2.75,2365],[2.91,2329],[3.08,2400],[3.16,2294],[3.29,1853],[3.32,2329],[3.57,2259],[3.81,2294],[4.06,2259],[4.22,2329],[4.38,2365],[4.55,2329],[4.71,2400],[4.82,2206],[4.87,1959],[5.03,2470],[5.12,2188],[5.28,2188],[5.36,2717],[5.52,2612],[5.69,2559],[5.77,2576],[5.85,2541],
[6.26,2682],[6.35,2640],[6.42,2612],[6.58,2559],[6.65,2580],[6.74,2576],[6.9,2600],[6.99,2612],[7.1,2630],[7.23,2647],[7.32,2329],[7.48,2541],[7.55,2560],[7.64,2647],[7.81,2470],[7.9,2500],[7.97,2753],[8.13,2541],[8.2,2520],[8.29,2488],[8.45,2559],[8.55,2530],[8.62,2506],[8.78,2541],[8.85,2520],[8.94,2506],
[9.51,2417],[9.6,2365],[9.76,2329],[9.92,2382],[10.08,2294],[10.25,2365],[10.49,2329],[10.57,2153],[10.65,2488],[10.82,2506],
[10.98,2682],[11.06,2753],[11.23,2823],[11.39,2788],[11.47,2929],[11.63,2894],[11.8,2823],[11.96,2859],[12.12,2788],[12.2,2717],[12.29,2647],
[13.67,2965],[13.75,3035],[13.83,3177],[13.99,3071],[14.16,2929],[14.32,3000],[14.48,2770],[14.65,2823],[14.81,2929],[14.97,2859],[15.14,3000],[15.3,2894],
[15.35,3882],[15.41,3724],[15.5,3635],[15.57,3688],[15.67,3583],[15.79,3459],[15.87,3424],[15.38,3388],[15.54,3353],[15.71,3282],[15.92,2277],[15.95,3141],[16.03,3035],[16.11,2965],[16.28,2647],[16.36,2576],[16.44,2541],[16.52,2506],[16.68,2470],[16.76,2453],[16.81,1606],
[16.93,2965],[17.0,2930],[17.09,2894],[17.17,2910],[17.25,2929],[17.33,2900],[17.42,2876],[17.5,2920],[17.58,2965],[17.66,2930],[17.74,2894],[17.82,2910],[17.91,2929],[18.0,2900],[18.07,2876],[18.15,2890],[18.23,2912],
[18.8,3071],[18.88,3050],[18.96,3035],[19.05,2980],[19.13,2929],[19.21,2910],[19.29,2894],[19.37,2870],[19.45,2859],[19.53,2870],[19.62,2876],[19.7,2850],[19.78,2823],[19.86,2840],[19.94,2859],[20.02,2820],[20.1,2788],[20.19,2800],[20.27,2823],[20.35,2880],[20.43,2929],[20.51,2910],[20.59,2894],[20.67,2880],[20.76,2859],[20.84,2820],[20.92,2788],[21.0,2800],[21.08,2823],[21.16,2840],[21.33,2541],[21.41,2859],[21.49,2890],[21.57,2929],[21.65,2880],[21.73,2823],[21.82,2810],[21.9,2788],[21.98,2820],[22.06,2859],[22.14,2740],[22.19,2612]];

// Panel 4: peak_RMS BC2A
const p4_BC2AB = [[-1.31,1109],[-1.26,1043],[-1.21,963],[-1.18,905],[-1.15,774],[-1.21,367],[-1.15,382],[-1.1,396],[-1.02,912],[-0.61,1007],
[-0.56,425],[-0.49,382],[-0.47,372],[-0.4,395],[-0.39,353],[-0.33,345],[-0.28,367],[-0.25,330],[-0.2,355],[-0.11,338],[-0.06,365],[-0.03,330],[0.05,361],[0.1,320],[0.13,350],[0.21,331],[0.26,365],[0.3,325],[0.38,346],[0.42,310],[0.46,340],[0.54,324],[0.58,350],[0.62,318],[0.71,309],[0.75,300],[0.79,325],[0.87,338],[0.9,320],[0.95,350],[1.03,361],[1.07,330],[1.11,355],[1.2,367],
[1.28,840],[1.31,702],[1.36,338],[1.53,353],[1.6,370],[1.69,331],[1.78,320],[1.85,346],[1.95,360],[2.02,338],[2.1,310],[2.18,324],
[2.35,869],[2.4,672],[2.46,280],[2.51,324],[2.56,236],[2.63,617],[2.67,367],[2.76,338],[2.84,309],
[3.08,411],[3.17,382],[3.3,1051],[3.38,353],[3.45,345],[3.49,1014],[3.54,367],[3.6,355],[3.66,338],[3.74,330],[3.82,324],[3.9,318],[3.99,309],[4.07,322],[4.15,338],[4.24,350],[4.32,361],[4.4,355],[4.48,346],[4.56,360],[4.64,373],[4.72,370],[4.81,367],[4.86,1065],[4.89,898],[4.97,396],[5.14,280],[5.22,353],
[5.35,425],[5.41,1000],[5.46,440],[5.63,411],[5.74,396],[5.84,382],
[6.2,396],[6.29,390],[6.37,382],[6.45,395],[6.53,404],[6.61,390],[6.69,382],[6.78,398],[6.86,411],[6.94,462],[7.02,418],[7.1,411],[7.18,418],[7.27,425],[7.35,410],[7.43,396],[7.51,390],[7.6,382],[7.68,375],[7.76,367],[7.84,360],[7.92,353],[8.0,360],[8.09,367],[8.17,378],[8.25,389],[8.33,396],[8.42,404],[8.5,408],[8.58,411],[8.66,418],[8.74,425],[8.82,428],[8.91,433],[8.99,411],
[9.32,396],[9.4,390],[9.48,382],[9.56,378],[9.65,373],[9.73,385],[9.81,396],[9.9,390],[9.98,382],[10.06,375],[10.14,367],[10.22,390],[10.3,411],[10.39,425],[10.47,396],[10.52,774],[10.55,723],[10.63,367],[10.71,396],
[10.88,454],[10.92,465],[10.96,476],[11.04,498],[11.12,505],[11.21,513],[11.29,528],[11.37,542],[11.45,564],[11.53,545],[11.62,527],[11.7,516],[11.78,506],[11.86,510],[11.94,513],[12.02,490],[12.11,469],[12.19,476],[12.27,484],
[13.67,556],[13.72,1123],[13.75,1065],[13.8,580],[13.83,513],[13.91,600],[13.95,560],[13.99,610],[14.08,629],[14.12,600],[14.16,585],[14.24,542],[14.28,520],[14.32,560],[14.4,549],[14.45,580],[14.49,545],[14.54,1116],[14.6,500],[14.65,527],[14.74,535],[14.78,560],[14.82,542],[14.9,530],[14.94,490],[14.98,520],[15.02,540],[15.06,498],[15.31,520],[15.32,1549],[15.36,963],[15.47,934],[15.55,498],[15.64,556],[15.72,912],[15.88,876],[15.91,1971],
[15.31,760],[15.39,716],[15.47,745],[15.55,767],[15.64,723],[15.72,702],[15.8,716],
[15.88,556],[15.96,513],[16.05,534],[16.13,491],[16.21,396],[16.29,367],[16.37,338],[16.46,353],[16.54,382],[16.62,367],[16.7,396],
[16.78,1029],[16.83,571],[16.87,545],[16.9,510],[16.95,527],[17.03,512],[17.07,540],[17.11,498],[17.2,505],[17.24,480],[17.28,513],[17.36,476],[17.4,550],[17.44,527],[17.52,515],[17.56,992],[17.56,861],[17.6,506],[17.65,480],[17.69,516],[17.77,527],[17.81,510],[17.85,540],[17.93,556],[17.98,560],[18.01,530],[18.1,513],[18.14,490],[18.21,520],
[18.83,556],[18.86,600],[18.9,565],[19.0,571],[19.04,520],[19.08,643],[19.12,610],[19.16,585],[19.25,575],[19.29,1152],[19.33,1080],[19.37,590],[19.41,556],[19.45,530],[19.5,565],[19.57,571],[19.62,600],[19.65,560],[19.74,549],[19.78,520],[19.82,556],[19.9,564],[19.95,590],[19.98,553],[20.07,542],[20.11,510],[20.15,548],[20.23,556],[20.28,570],[20.31,535],[20.39,513],[20.44,490],[20.47,520],[20.56,527],[20.6,560],[20.64,484],[20.72,495],[20.76,480],[20.8,506],[20.88,530],[20.93,590],[20.97,549],[21.05,527],[21.09,500],[21.13,540],[21.3,1196],[21.38,600],[21.49,1029],[21.54,556],[21.58,600],[21.62,565],[21.71,571],[21.75,530],[21.79,555],[21.87,542],[21.91,600],[21.95,545],[22.03,549],[22.07,560],[22.1,535],[22.15,527],[22.12,411]];
const p4_BC2AT = [[-1.31,847],[-1.26,818],[-1.21,760],[-1.18,745],[-1.15,636],[-1.21,222],[-1.15,244],[-1.02,832],[-0.61,811],
[-0.56,222],[-0.47,228],[-0.44,236],[-0.33,218],[-0.28,214],[-0.2,212],[-0.11,222],[-0.03,210],[0.05,200],[0.13,196],[0.21,193],[0.3,200],[0.38,207],[0.46,190],[0.54,185],[0.62,195],[0.71,200],[0.79,210],[0.87,222],[0.95,215],[1.03,207],[1.11,200],[1.2,193],[1.28,731],[1.31,578],[1.36,214],[1.53,207],[1.69,222],[1.85,200],[2.02,193],[2.18,207],
[2.35,600],[2.4,796],[2.46,113],[2.56,978],[2.63,600],[2.67,222],[2.84,193],[3.3,898],[3.38,207],[3.45,195],[3.54,934],[3.6,190],[3.66,185],[3.74,188],[3.82,193],[3.9,196],[3.99,200],[4.07,192],[4.15,185],[4.24,196],[4.32,207],[4.4,210],[4.48,214],[4.56,225],[4.64,236],[4.81,171],[4.86,971],[4.89,847],[4.97,193],[5.14,222],[5.35,818],[5.46,251],[5.63,236],[5.79,265],
[6.2,265],[6.29,258],[6.37,251],[6.45,258],[6.53,520],[6.61,265],[6.7,255],[6.78,244],[6.86,258],[6.94,265],[7.02,258],[7.1,251],[7.18,255],[7.27,258],[7.35,266],[7.43,273],[7.51,262],[7.6,251],[7.68,244],[7.76,236],[7.84,248],[7.92,353],[8.0,248],[8.09,244],[8.17,248],[8.25,251],[8.33,255],[8.42,258],[8.5,262],[8.58,265],[8.66,255],[8.74,244],[8.82,248],[8.91,251],
[9.32,251],[9.4,244],[9.48,236],[9.56,229],[9.65,222],[9.73,226],[9.81,229],[9.9,232],[9.98,236],[10.06,229],[10.14,222],[10.22,233],[10.3,244],[10.52,614],[10.55,665],[10.63,236],[10.71,265],
[10.88,287],[10.96,298],[11.04,309],[11.12,316],[11.21,324],[11.29,331],[11.37,338],[11.45,330],[11.53,462],[11.62,324],[11.7,338],[11.78,353],[11.86,342],[11.94,331],[12.02,320],[12.11,309],[12.19,324],[12.27,338],
[13.67,251],[13.72,767],[13.75,825],[13.83,295],[13.99,324],[14.08,310],[14.16,302],[14.24,320],[14.32,338],[14.4,330],[14.54,811],[14.57,454],[14.65,300],[14.73,295],[14.82,300],[14.9,309],[15.06,324],[15.14,353],[15.32,992],[15.36,643],[15.39,425],[15.55,411],[15.64,396],[15.72,418],[15.88,1029],[15.88,396],
[15.96,353],[16.13,338],[16.29,324],[16.46,309],[16.54,338],[16.62,934],[16.7,346],[16.78,1237],
[16.87,338],[16.95,330],[17.03,324],[17.11,326],[17.2,331],[17.28,324],[17.36,317],[17.44,320],[17.52,774],[17.56,440],[17.69,324],[17.77,316],[17.85,309],[17.93,320],[18.01,331],[18.1,324],[18.18,317],
[18.83,338],[18.9,300],[18.92,330],[19.0,324],[19.08,462],[19.12,290],[19.16,309],[19.2,316],[19.29,905],[19.33,752],[19.41,302],[19.45,330],[19.5,310],[19.57,317],[19.66,305],[19.7,320],[19.74,295],[19.82,300],[19.9,309],[19.95,290],[19.98,316],[20.07,324],[20.15,312],[20.2,330],[20.23,302],[20.31,298],[20.39,295],[20.45,290],[20.47,312],[20.56,331],[20.64,320],[20.7,330],[20.72,309],[20.8,462],[20.88,298],[20.97,287],[21.0,320],[21.05,295],[21.13,302],[21.3,949],[21.46,731],[21.54,324],[21.6,330],[21.62,310],[21.71,302],[21.79,258],[21.85,310],[21.87,290],[21.95,295],[22.03,280],[22.05,300],[22.12,265]];
const p4_BC2AS = [[-1.31,927],[-1.26,978],[-1.21,876],[-1.18,803],[-1.15,680],[-1.21,258],[-1.15,280],[-1.1,295],[-1.02,840],[-0.61,891],
[-0.56,280],[-0.47,268],[-0.44,258],[-0.33,255],[-0.28,251],[-0.2,258],[-0.11,265],[-0.03,250],[0.05,244],[0.13,240],[0.21,236],[0.3,245],[0.38,251],[0.46,225],[0.54,214],[0.62,228],[0.71,236],[0.79,245],[0.87,251],[0.95,243],[1.03,236],[1.11,240],[1.2,244],[1.31,767],[1.31,614],[1.41,178],[1.53,251],[1.69,236],[1.85,244],[2.02,229],[2.18,251],
[2.35,818],[2.4,622],[2.46,99],[2.56,956],[2.63,578],[2.67,251],[2.84,222],[3.08,265],[3.3,956],[3.38,236],[3.45,228],[3.54,956],[3.6,230],[3.66,222],[3.74,228],[3.82,236],[3.9,240],[3.99,244],[4.07,210],[4.15,178],[4.24,240],[4.32,236],[4.4,245],[4.48,251],[4.56,258],[4.64,265],[4.86,1000],[4.89,847],[4.97,265],[5.14,193],[5.22,295],[5.35,891],[5.46,324],[5.63,280],[5.79,295],
[6.2,280],[6.29,270],[6.37,258],[6.45,280],[6.53,360],[6.61,287],[6.7,275],[6.78,265],[6.86,285],[6.94,302],[7.02,292],[7.1,280],[7.18,284],[7.27,287],[7.35,222],[7.43,302],[7.51,294],[7.6,287],[7.68,276],[7.76,265],[7.84,284],[7.92,302],[8.0,288],[8.09,273],[8.17,280],[8.25,287],[8.33,276],[8.42,265],[8.5,284],[8.58,302],[8.66,288],[8.74,273],[8.82,284],[8.91,295],
[9.32,273],[9.4,262],[9.48,251],[9.56,269],[9.65,287],[9.73,272],[9.81,258],[9.9,255],[9.98,251],[10.06,258],[10.14,265],[10.22,284],[10.3,302],[10.52,702],[10.55,636],[10.63,265],[10.71,207],[10.79,324],
[10.88,338],[10.96,345],[11.04,353],[11.12,411],[11.21,360],[11.29,353],[11.37,346],[11.45,440],[11.53,355],[11.62,367],[11.7,360],[11.78,353],[11.86,367],[11.94,382],[12.02,367],[12.11,353],[12.19,360],[12.27,367],
[13.67,411],[13.72,941],[13.75,883],[13.83,382],[13.99,353],[14.08,380],[14.16,411],[14.24,367],[14.32,370],[14.4,396],[14.48,385],[14.54,937],[14.65,382],[14.73,375],[14.82,353],[14.9,360],[14.98,367],[15.14,469],[15.22,571],[15.31,542],[15.32,1237],[15.47,527],[15.55,513],[15.64,498],[15.72,542],[15.88,629],[15.91,1472],
[15.96,411],[16.13,367],[16.29,280],[16.37,265],[16.46,287],[16.54,258],[16.62,280],[16.7,353],[16.83,1109],
[16.87,425],[16.95,353],[17.03,353],[17.11,345],[17.2,338],[17.28,350],[17.36,353],[17.44,355],[17.52,440],[17.56,905],[17.56,832],[17.56,803],[17.69,346],[17.77,350],[17.85,360],[17.93,355],[18.01,353],[18.1,360],[18.18,367],
[18.83,396],[18.9,420],[18.92,390],[19.0,382],[19.08,491],[19.12,410],[19.16,440],[19.2,395],[19.29,1000],[19.33,934],[19.36,840],[19.41,367],[19.45,400],[19.5,375],[19.57,425],[19.66,370],[19.7,390],[19.74,374],[19.82,372],[19.9,425],[19.95,395],[19.98,370],[20.07,360],[20.15,365],[20.2,390],[20.23,382],[20.31,360],[20.39,353],[20.45,385],[20.47,365],[20.56,367],[20.64,360],[20.7,395],[20.72,353],[20.8,469],[20.88,372],[20.97,396],[21.0,410],[21.05,380],[21.13,367],[21.3,1043],[21.46,840],[21.54,425],[21.6,410],[21.62,380],[21.71,367],[21.79,375],[21.85,400],[21.87,382],[21.95,360],[22.03,338],[22.05,410],[22.1,380],[22.15,396]];

// ---------- styling / layout ----------
const FONT = '"Liberation Sans", Arial, Helvetica, sans-serif';
const TXT = '#1a1a1a';
const RED = '#f63c30', BLUE = '#0b2bf0', BLACK = '#000000';
const DOT = {color: '#000', width: 2.6, type: [2.6, 5.6]};

function seq(a, b, s) { const r = []; for (let v = a; v <= b + 1e-9; v += s) r.push(Math.round(v * 1000) / 1000); return r; }

const panels = [
  {grid: {left: 134, top: 77.5, width: 777, height: 467}, x: [-2.42, 23.36], y: [5937, 9515], yTicks: p1YTicks, yMinor: seq(6000, 9500, 100), xMargin: 4,
   series: [['BC1T', RED, p1_BC1T], ['BC1B', BLACK, p1_BC1B], ['BC1S', BLUE, p1_BC1S]]},
  {grid: {left: 1134, top: 74, width: 778, height: 472}, x: [-2.42, 23.34], y: [317, 1006], yTicks: p2YTicks, yMinor: seq(320, 1000, 20), xMargin: 4,
   series: [['BC1T', RED, p2_BC1T], ['BC1B', BLACK, p2_BC1B], ['BC1S', BLUE, p2_BC1S]]},
  {grid: {left: 133, top: 691, width: 778, height: 474}, x: [-2.45, 23.36], y: [-17, 5003], yTicks: p3YTicks, yMinor: seq(0, 5000, 200), xMargin: 2,
   series: [['BC2AT', RED, p3_BC2AT], ['BC2AB', BLACK, p3_BC2AB], ['BC2AS', BLUE, p3_BC2AS]]},
  {grid: {left: 1144, top: 690.5, width: 778, height: 474.5}, x: [-2.51, 23.28], y: [-3.5, 2066], yTicks: p4YTicks, yMinor: seq(0, 2050, 50), xMargin: 2,
   series: [['BC2AT', RED, p4_BC2AT], ['BC2AB', BLACK, p4_BC2AB], ['BC2AS', BLUE, p4_BC2AS]]}
];

const grids = [], xAxes = [], yAxes = [], series = [];
panels.forEach((p, i) => {
  grids.push(Object.assign({show: true, borderColor: '#000', borderWidth: 3, backgroundColor: 'transparent', containLabel: false, outerBoundsMode: 'none'}, p.grid));
  xAxes.push({type: 'value', gridIndex: i, min: p.x[0], max: p.x[1], position: 'bottom',
    axisLine: {show: false, onZero: false},
    axisTick: {show: true, inside: true, length: 9, customValues: weekTicks, lineStyle: {color: '#000', width: 2}},
    axisLabel: {show: true, customValues: weekTicks, formatter: v => { const k = weekTicks.indexOf(v); return k >= 0 ? weekLabels[k] : ''; },
      margin: p.xMargin, fontSize: 26.5, fontFamily: FONT, color: TXT, hideOverlap: false},
    splitLine: {show: true, lineStyle: DOT}, minorTick: {show: false}, minorSplitLine: {show: false}});
  yAxes.push({type: 'value', gridIndex: i, min: p.y[0], max: p.y[1], position: 'left',
    axisLine: {show: false, onZero: false},
    axisTick: {show: true, inside: true, length: 19, customValues: p.yTicks, lineStyle: {color: '#000', width: 2}},
    axisLabel: {show: true, customValues: p.yTicks, formatter: v => String(v), margin: 5, fontSize: 26.5, fontFamily: FONT, color: TXT, hideOverlap: false},
    splitLine: {show: true, lineStyle: DOT}});
  yAxes.push({type: 'value', gridIndex: i, min: p.y[0], max: p.y[1], position: 'left', offset: 0,
    axisLine: {show: false, onZero: false},
    axisTick: {show: true, inside: true, length: 11, customValues: p.yMinor, lineStyle: {color: '#000', width: 2}},
    axisLabel: {show: false}, splitLine: {show: false}});
  p.series.forEach(([name, color, data]) => {
    series.push({type: 'scatter', name, xAxisIndex: i, yAxisIndex: 2 * i, data, symbol: 'circle', symbolSize: 5.5,
      itemStyle: {color, opacity: 1}, emphasis: {disabled: true}, silent: true, z: 3});
  });
});

function legend(left, top, names, o) {
  return {left, top, orient: 'vertical', data: names, icon: 'rect', itemWidth: o.iw, itemHeight: o.ih, itemGap: o.gap,
    padding: o.pad, backgroundColor: '#fff', borderColor: '#000', borderWidth: 2.5, borderRadius: 0, selectedMode: false,
    textStyle: {fontSize: o.fs, lineHeight: o.lh, fontFamily: FONT, color: TXT}, z: 10};
}

const legends = [
  legend(764, 341.5, ['BC1B', 'BC1T', 'BC1S'], {iw: 25, ih: 5.5, gap: 14.8, pad: [8.8, 45, 7.6, 6], fs: 25, lh: 26}),
  legend(1208, 73.5, ['BC1B', 'BC1T', 'BC1S'], {iw: 35.5, ih: 7, gap: 19, pad: [9, 87, 7.5, 9.5], fs: 28, lh: 29}),
  legend(209, 690, ['BC2AB', 'BC2AT', 'BC2AS'], {iw: 36, ih: 5.5, gap: 11, pad: [4.5, 93, 3.5, 8], fs: 20, lh: 21}),
  legend(1222, 690, ['BC2AB', 'BC2AT', 'BC2AS'], {iw: 36, ih: 5.5, gap: 13, pad: [5.5, 84, 4.5, 8], fs: 22, lh: 23})
];

function txt(x, y, text, size, align, vAlign, rot, color) {
  return {type: 'text', x, y, rotation: rot || 0, z: 20, silent: true,
    style: {text, fill: color || TXT, font: size + 'px ' + FONT, fontSize: size, fontFamily: FONT,
      align, textAlign: align, verticalAlign: vAlign, textVerticalAlign: vAlign}};
}

const graphics = [
  {type: 'line', shape: {x1: 8, y1: 6, x2: 1960, y2: 6}, style: {stroke: '#959595', lineWidth: 2}, z: 20, silent: true},
  {type: 'line', shape: {x1: 8, y1: 6, x2: 8, y2: 1239}, style: {stroke: '#959595', lineWidth: 2}, z: 20, silent: true},
  txt(522, 36, 'time/h_TQDC_(BC1TIBC1BIBC1S)peak_mean', 24.5, 'center', 'middle'),
  txt(1534, 36, 'time/h_TQDC_(BC1TIBC1BIBC1S)peak_RMS', 24.5, 'center', 'middle'),
  txt(522, 652, 'time/h_TQDC_(BC2ATIBC2ABIBC2AS)peak_mean', 24.5, 'center', 'middle'),
  txt(1535, 652, 'time/h_TQDC_(BC2ATIBC2ABIBC2AS)peak_RMS', 24.5, 'center', 'middle'),
  txt(909, 595, 'time', 26, 'right', 'middle'),
  txt(1911, 595, 'time', 26, 'right', 'middle'),
  txt(909, 1213, 'time', 26, 'right', 'middle'),
  txt(1922, 1213, 'time', 26, 'right', 'middle'),
  txt(50, 73, 'TQDC_BC1Bpeak mean', 20, 'right', 'middle', Math.PI / 2, '#222'),
  txt(1056, 75, 'TQDC_BC1Bpeak RMS', 20.5, 'right', 'middle', Math.PI / 2, '#222'),
  txt(51, 689, 'TQDC_BC2ABpeak mean', 20, 'right', 'middle', Math.PI / 2, '#222'),
  txt(1051, 691, 'TQDC_BC2ABpeak RMS', 20, 'right', 'middle', Math.PI / 2, '#222'),
  {type: 'rect', shape: {x: 1020, y: 680, width: 25.5, height: 250}, style: {fill: '#fff'}, z: 30, silent: true}
];

const chart = echarts.init(document.getElementById('c'), null, {renderer: 'canvas', width: 1960, height: 1239});
chart.setOption({
  animation: false,
  backgroundColor: '#fff',
  grid: grids, xAxis: xAxes, yAxis: yAxes, legend: legends, series,
  graphic: {elements: graphics}
});
</script>
</body></html>
